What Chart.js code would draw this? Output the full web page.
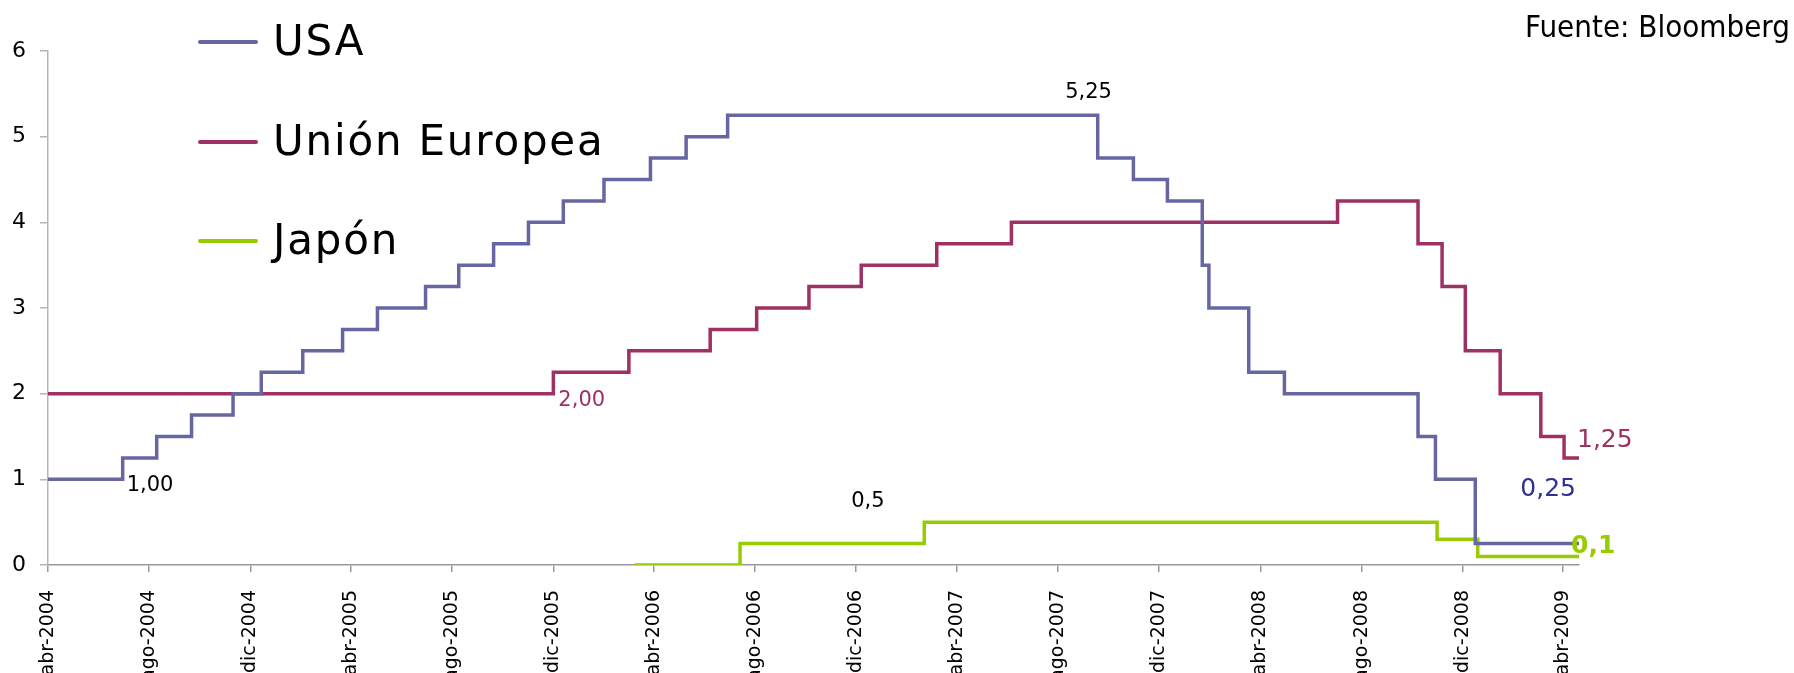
<!DOCTYPE html>
<html lang="es">
<head>
<meta charset="utf-8">
<title>Tipos de interés oficiales</title>
<script src="https://cdn.jsdelivr.net/npm/chart.js@4/dist/chart.umd.min.js"></script>
<style>
  html, body { margin: 0; padding: 0; background: #fff; overflow: hidden; }
  #wrap { position: relative; width: 1794px; height: 673px; }
  #grafico { position: absolute; left: 0; top: 0; }
  .fuente {
    position: absolute; right: 4px; top: 11px;
    font-family: "DejaVu Sans Condensed", "DejaVu Sans", sans-serif;
    font-size: 31px; line-height: 31px; color: #000;
  }
  .leyenda-item { position: absolute; left: 198px; width: 500px; height: 42px; }
  .leyenda-linea { position: absolute; left: 0; top: 19px; width: 60px; height: 4px; border-radius: 2px; }
  .leyenda-texto {
    position: absolute; left: 75px; top: 0;
    font-family: "DejaVu Sans", sans-serif; font-size: 42px; line-height: 42px;
    letter-spacing: 1.8px; white-space: nowrap; color: #000;
  }
</style>
</head>
<body>
<div id="wrap">
  <canvas id="grafico" width="1794" height="673"></canvas>
  <div class="fuente">Fuente: Bloomberg</div>
  <div id="leyenda"></div>
</div>
<script>
'use strict';

// Fechas de cambio de tipo y nuevo nivel (%)
const usaFechas = ['2004-04-01', '2004-06-30', '2004-08-10', '2004-09-21', '2004-11-10', '2004-12-14',
                   '2005-02-02', '2005-03-22', '2005-05-03', '2005-06-30', '2005-08-09', '2005-09-20',
                   '2005-11-01', '2005-12-13', '2006-01-31', '2006-03-28', '2006-05-10', '2006-06-29',
                   '2007-09-18', '2007-10-31', '2007-12-11', '2008-01-22', '2008-01-30', '2008-03-18',
                   '2008-04-30', '2008-10-08', '2008-10-29', '2008-12-16', '2009-04-20'];
const usaTipos = [1.00, 1.25, 1.50, 1.75, 2.00, 2.25,
                  2.50, 2.75, 3.00, 3.25, 3.50, 3.75,
                  4.00, 4.25, 4.50, 4.75, 5.00, 5.25,
                  4.75, 4.50, 4.25, 3.50, 3.00, 2.25,
                  2.00, 1.50, 1.00, 0.25, 0.25];

const ueFechas = ['2004-04-01', '2005-12-01', '2006-03-02', '2006-06-08', '2006-08-03', '2006-10-05',
                  '2006-12-07', '2007-03-08', '2007-06-06', '2008-07-03', '2008-10-08', '2008-11-06',
                  '2008-12-04', '2009-01-15', '2009-03-05', '2009-04-02', '2009-04-20'];
const ueTipos = [2.00, 2.25, 2.50, 2.75, 3.00, 3.25,
                 3.50, 3.75, 4.00, 4.25, 3.75, 3.25,
                 2.50, 2.00, 1.50, 1.25, 1.25];

const japonFechas = ['2006-03-09', '2006-07-14', '2007-02-21', '2008-10-31', '2008-12-19', '2009-04-20'];
const japonTipos = [0.00, 0.25, 0.50, 0.30, 0.10, 0.10];

// Eje X
const tickFechas = ['2004-04-01', '2004-08-01', '2004-12-01', '2005-04-01', '2005-08-01', '2005-12-01',
                    '2006-04-01', '2006-08-01', '2006-12-01', '2007-04-01', '2007-08-01', '2007-12-01',
                    '2008-04-01', '2008-08-01', '2008-12-01', '2009-04-01'];
const tickEtiquetas = ['abr-2004', 'ago-2004', 'dic-2004', 'abr-2005', 'ago-2005', 'dic-2005',
                       'abr-2006', 'ago-2006', 'dic-2006', 'abr-2007', 'ago-2007', 'dic-2007',
                       'abr-2008', 'ago-2008', 'dic-2008', 'abr-2009'];
const fechaInicio = '2004-04-01';
const fechaFin = '2009-04-20';

// Etiquetas de valores sobre las series
const etiquetaTextos = ['1,00', '2,00', '5,25', '0,5', '1,25', '0,25', '0,1'];
const etiquetaFechas = ['2004-06-30', '2005-12-01', '2007-09-07', '2006-12-15', '2009-04-20', '2009-04-20', '2009-04-20'];
const etiquetaValores = [1.00, 2.00, 5.25, 0.50, 1.25, 0.25, 0.10];

const COLOR_USA = '#6667a2';
const COLOR_UE = '#9e3063';
const COLOR_JAPON = '#99cc00';

function dia(fecha)
{
    const [a, m, d] = fecha.split('-').map(Number);
    const [a0, m0, d0] = fechaInicio.split('-').map(Number);
    return (Date.UTC(a, m - 1, d) - Date.UTC(a0, m0 - 1, d0)) / 86400000;
}

function puntos(fechas, tipos)
{
    return fechas.map((f, i) => ({ x: dia(f), y: tipos[i] }));
}

// estilo de cada etiqueta (mismo orden que etiquetaTextos)
const estiloEtiquetas = [
    { color: '#000000', font: '21px "DejaVu Sans"', align: 'left', dx: 4, dy: 12 },
    { color: COLOR_UE, font: '21px "DejaVu Sans"', align: 'left', dx: 5, dy: 12 },
    { color: '#000000', font: '21px "DejaVu Sans"', align: 'center', dx: 0, dy: -17 },
    { color: '#000000', font: '21px "DejaVu Sans"', align: 'center', dx: 0, dy: -15 },
    { color: COLOR_UE, font: '25px "DejaVu Sans"', align: 'left', dx: -2, dy: -11 },
    { color: '#2e3192', font: '25px "DejaVu Sans"', align: 'right', dx: -3, dy: -48 },
    { color: COLOR_JAPON, font: 'bold 25px "DejaVu Sans"', align: 'left', dx: -8, dy: -3 }
];

const pluginEtiquetas = {
    id: 'etiquetas',
    afterDatasetsDraw(chart)
    {
        const ctx = chart.ctx;
        const sx = chart.scales.x, sy = chart.scales.y;
        ctx.save();
        ctx.textBaseline = 'alphabetic';
        etiquetaTextos.forEach(function(texto, i){
            const e = estiloEtiquetas[i];
            ctx.font = e.font;
            ctx.fillStyle = e.color;
            ctx.textAlign = e.align;
            ctx.fillText(texto, sx.getPixelForValue(dia(etiquetaFechas[i])) + e.dx,
                                sy.getPixelForValue(etiquetaValores[i]) + e.dy);
        });
        ctx.restore();
    }
};

const serie = (label, data, color) => ({
    label: label,
    data: data,
    borderColor: color,
    backgroundColor: color,
    borderWidth: 3.5,
    stepped: 'before',
    pointRadius: 0,
    fill: false,
    tension: 0
});

const grafico = new Chart(document.getElementById('grafico'), {
    type: 'line',
    data: {
        datasets: [
            serie('USA', puntos(usaFechas, usaTipos), COLOR_USA),
            serie('Unión Europea', puntos(ueFechas, ueTipos), COLOR_UE),
            serie('Japón', puntos(japonFechas, japonTipos), COLOR_JAPON)
        ]
    },
    options: {
        responsive: false,
        animation: false,
        layout: { padding: { top: 51, right: 215, left: 0, bottom: 0 } },
        plugins: {
            legend: { display: false },
            tooltip: { enabled: false }
        },
        scales: {
            x: {
                type: 'linear',
                min: dia(fechaInicio),
                max: dia(fechaFin),
                afterBuildTicks: function(scale){
                    scale.ticks = tickFechas.map(f => ({ value: dia(f) }));
                },
                afterFit: function(scale){ scale.height = 108; },
                ticks: {
                    autoSkip: false,
                    minRotation: 90,
                    maxRotation: 90,
                    padding: 18,
                    color: '#000',
                    font: { family: '"DejaVu Sans"', size: 19 },
                    callback: (valor, i) => tickEtiquetas[i]
                },
                grid: { drawOnChartArea: false, tickLength: 7, color: '#9a9a9a', lineWidth: 1.5 },
                border: { color: '#9a9a9a', width: 1.5 }
            },
            y: {
                min: 0,
                max: 6,
                afterFit: function(scale){ scale.width = 48; },
                ticks: {
                    stepSize: 1,
                    padding: 14,
                    color: '#000',
                    font: { family: '"DejaVu Sans"', size: 22 }
                },
                grid: { drawOnChartArea: false, tickLength: 8, color: '#b5b5b5', lineWidth: 1.5 },
                border: { color: '#b5b5b5', width: 1.5 }
            }
        }
    },
    plugins: [pluginEtiquetas]
});

// Leyenda en HTML, construida desde las series del gráfico
const posicionesLeyenda = [20, 120, 219];
grafico.data.datasets.forEach(function(ds, i){
    const item = document.createElement('div');
    item.className = 'leyenda-item';
    item.style.top = posicionesLeyenda[i] + 'px';
    const linea = document.createElement('div');
    linea.className = 'leyenda-linea';
    linea.style.background = ds.borderColor;
    linea.style.top = '20px';
    const texto = document.createElement('div');
    texto.className = 'leyenda-texto';
    texto.textContent = ds.label;
    item.appendChild(linea);
    item.appendChild(texto);
    document.getElementById('leyenda').appendChild(item);
});
</script>
</body>
</html>
